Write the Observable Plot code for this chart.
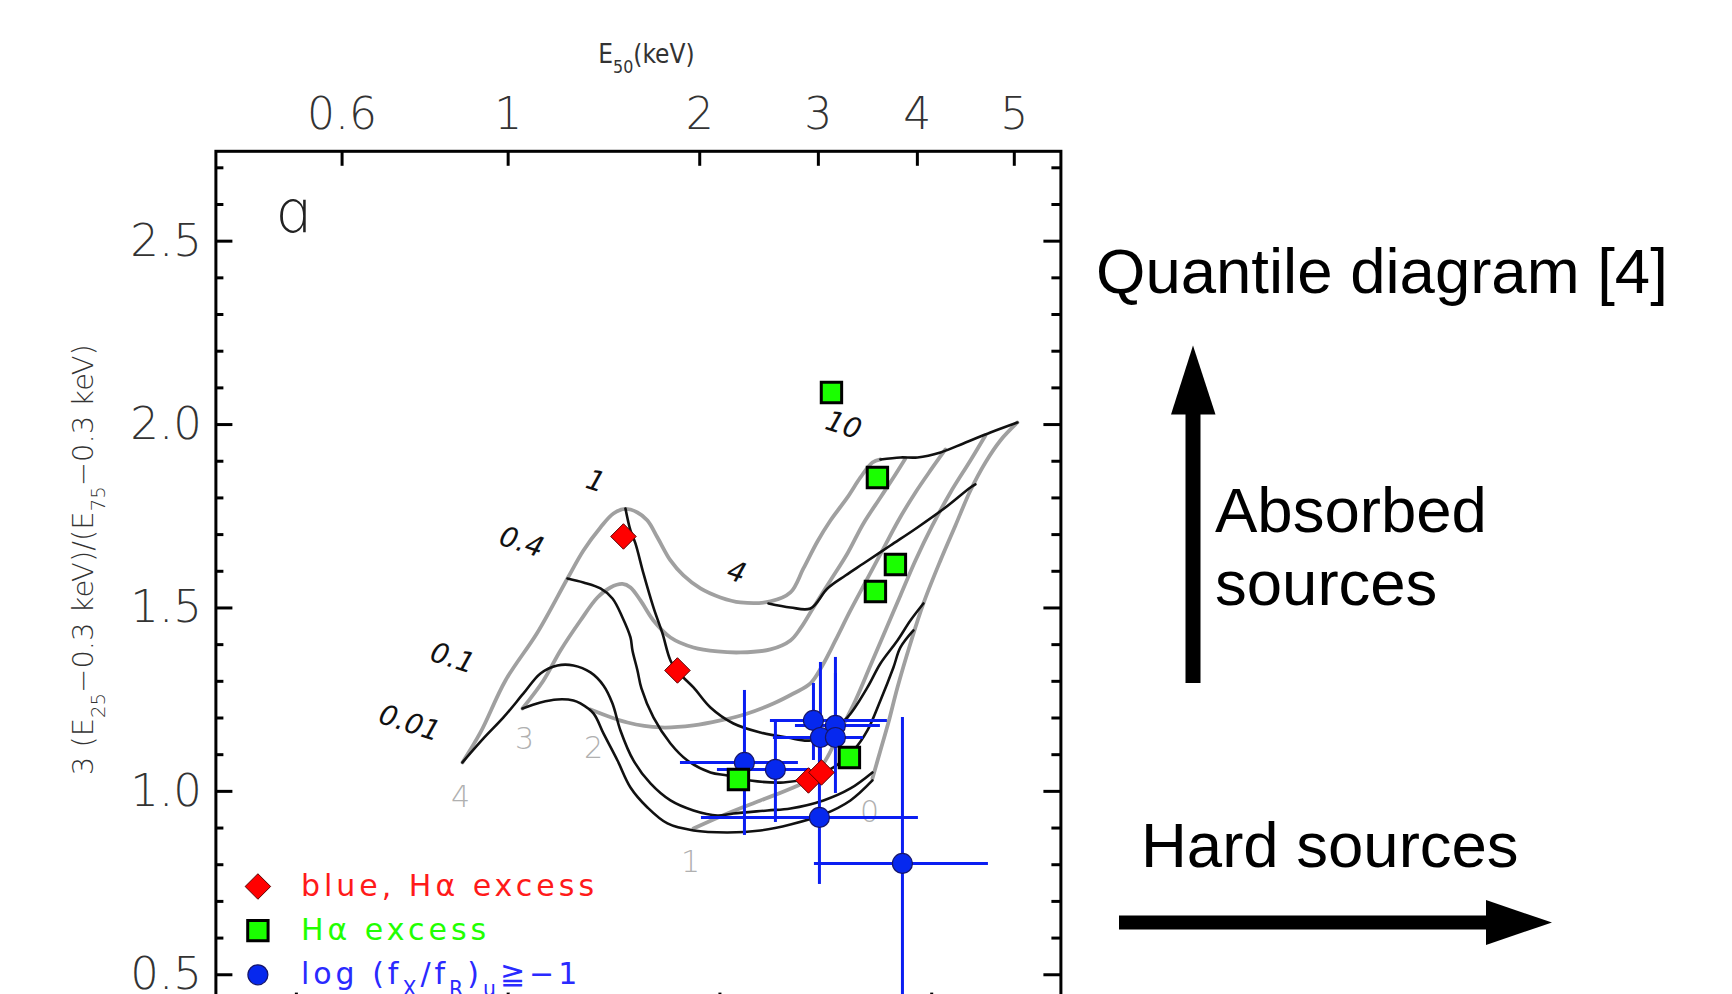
<!DOCTYPE html>
<html><head><meta charset="utf-8">
<script src="https://cdn.jsdelivr.net/npm/d3@7"></script>
<script src="https://cdn.jsdelivr.net/npm/@observablehq/plot@0.6"></script>
<style>
html,body{margin:0;padding:0;background:#fff;overflow:hidden;width:1732px;height:994px;}
#wrap{position:relative;width:1732px;height:994px;overflow:hidden;}
#chart{position:absolute;left:0;top:0;}
#notes{position:absolute;left:0;top:0;pointer-events:none;}
#notes text{font-family:"Liberation Sans",Arial,Helvetica,sans-serif;font-size:63.5px;fill:#000;}
</style></head><body>
<div id="wrap"><div id="chart"></div>
<svg id="notes" width="1732" height="994">
  <text x="1096" y="293">Quantile diagram [4]</text>
  <text x="1215" y="532">Absorbed</text>
  <text x="1215" y="605">sources</text>
  <text x="1141" y="867">Hard sources</text>
  <rect x="1185.5" y="412" width="15" height="271" fill="#000"/>
  <polygon points="1171,414.5 1215.5,414.5 1193,345.5" fill="#000"/>
  <rect x="1119" y="915.5" width="369" height="14" fill="#000"/>
  <polygon points="1486,900 1486,945 1552,922.5" fill="#000"/>
</svg></div>
<script>
// ---------- axis ticks ----------
const topTickE = [0.6, 1, 2, 3, 4, 5];               // E50 in keV
const topTickLabels = ["0.6", "1", "2", "3", "4", "5"];
const bottomTicks = [-1.5, -1, -0.5, 0];             // log10(m/(1-m))
const yMajor = [0.5, 1.0, 1.5, 2.0, 2.5];
const yMajorLabels = ["0.5", "1.0", "1.5", "2.0", "2.5"];
const yMinor = [0.6, 0.7, 0.8, 0.9, 1.1, 1.2, 1.3, 1.4, 1.6, 1.7, 1.8, 1.9, 2.1, 2.2, 2.3, 2.4, 2.6, 2.7];

// ---------- model grid: constant photon index (gray), [x = log10(m/(1-m)), y = 3(E25-0.3)/(E75-0.3)] ----------
const gamma4 = [[-1.1079,1.0788],[-1.0654,1.1606],[-1.0063,1.3024],[-0.9308,1.4332],[-0.8600,1.5804],[-0.8222,1.6568],[-0.7821,1.7195],[-0.7514,1.7576],[-0.7231,1.7699],[-0.6947,1.7604],[-0.6711,1.7386],[-0.6475,1.6922],[-0.6168,1.6295],[-0.5861,1.5886],[-0.5460,1.5532],[-0.4988,1.5286],[-0.4516,1.5150],[-0.3808,1.5177],[-0.3335,1.5423],[-0.3029,1.6077],[-0.2698,1.6813],[-0.2391,1.7386],[-0.1990,1.8013],[-0.1683,1.8558],[-0.1400,1.8967],[-0.1211,1.9049]];
const gamma3 = [[-0.9662,1.2260],[-0.9166,1.3024],[-0.8765,1.3841],[-0.8293,1.4659],[-0.7892,1.5286],[-0.7585,1.5559],[-0.7301,1.5654],[-0.7112,1.5559],[-0.6876,1.5205],[-0.6570,1.4659],[-0.6168,1.4196],[-0.5625,1.3923],[-0.5059,1.3814],[-0.4516,1.3787],[-0.3808,1.3869],[-0.3335,1.4114],[-0.3099,1.4441],[-0.2792,1.5014],[-0.2391,1.5750],[-0.1990,1.6486],[-0.1612,1.7304],[-0.1211,1.8013],[-0.0857,1.8640],[-0.0621,1.9076]];
const gamma2 = [[-0.8055,1.2233],[-0.7183,1.1878],[-0.6404,1.1742],[-0.5625,1.1797],[-0.4988,1.1933],[-0.4351,1.2124],[-0.3737,1.2396],[-0.3265,1.2669],[-0.2863,1.2942],[-0.2580,1.3432],[-0.2273,1.4114],[-0.1919,1.4932],[-0.1541,1.5750],[-0.1164,1.6568],[-0.0786,1.7386],[-0.0384,1.8149],[-0.0030,1.8749],[0.0324,1.9321]];
const gamma1 = [[-0.5625,0.8989],[-0.4823,0.9398],[-0.4044,0.9752],[-0.3265,1.0106],[-0.2863,1.0352],[-0.2509,1.0842],[-0.2155,1.1660],[-0.1801,1.2478],[-0.1447,1.3432],[-0.1093,1.4387],[-0.0739,1.5341],[-0.0384,1.6295],[0.0017,1.7249],[0.0442,1.8149],[0.0914,1.9021],[0.1268,1.9703]];
const gamma0 = [[-0.1400,1.0352],[-0.1211,1.1115],[-0.1022,1.1878],[-0.0809,1.2833],[-0.0503,1.4032],[-0.0196,1.5123],[0.0206,1.6295],[0.0560,1.7249],[0.0914,1.8203],[0.1268,1.8967],[0.1622,1.9567],[0.2023,2.0057]];

// ---------- model grid: constant NH (black) ----------
const nh001 = [[-1.1079,1.0788],[-1.0583,1.1442],[-1.0111,1.2015],[-0.9638,1.2669],[-0.9237,1.3214],[-0.8836,1.3432],[-0.8458,1.3432],[-0.8057,1.3242],[-0.7750,1.2887],[-0.7537,1.2396],[-0.7349,1.1660],[-0.7042,1.0842],[-0.6640,1.0215],[-0.6168,0.9752],[-0.5625,0.9479],[-0.5059,0.9343],[-0.4681,0.9398],[-0.3878,0.9479],[-0.3335,0.9534],[-0.2556,0.9752],[-0.1919,1.0079],[-0.1400,1.0515]];
const nh01 = [[-0.9662,1.2260],[-0.9237,1.2424],[-0.8836,1.2506],[-0.8458,1.2478],[-0.8293,1.2396],[-0.7986,1.2124],[-0.7750,1.1579],[-0.7419,1.0842],[-0.7112,1.0106],[-0.6711,0.9561],[-0.6239,0.9125],[-0.5625,0.8934],[-0.4823,0.8880],[-0.4044,0.8934],[-0.3335,0.9098],[-0.2556,0.9370],[-0.1919,0.9752],[-0.1400,1.0297]];
const nh04 = [[-0.8600,1.5804],[-0.8222,1.5695],[-0.7821,1.5532],[-0.7537,1.5259],[-0.7301,1.4741],[-0.7112,1.4196],[-0.7065,1.3841],[-0.6947,1.3296],[-0.6853,1.2805],[-0.6570,1.2015],[-0.6168,1.1306],[-0.5767,1.0842],[-0.5224,1.0515],[-0.4823,1.0433],[-0.4280,1.0297],[-0.3501,1.0243],[-0.2863,1.0379],[-0.2320,1.0652],[-0.1848,1.1115],[-0.1518,1.1660],[-0.1211,1.2478],[-0.0904,1.3378],[-0.0739,1.3923],[-0.0432,1.4387]];
const nh1 = [[-0.7231,1.7713],[-0.7112,1.7113],[-0.6995,1.6759],[-0.6806,1.5941],[-0.6570,1.5014],[-0.6357,1.4305],[-0.6168,1.3569],[-0.5979,1.3242],[-0.5625,1.2833],[-0.5224,1.2287],[-0.4681,1.1851],[-0.4044,1.1606],[-0.3406,1.1469],[-0.2863,1.1388],[-0.2391,1.1660],[-0.1990,1.2015],[-0.1518,1.2833],[-0.1211,1.3487],[-0.0809,1.4114],[-0.0503,1.4659],[-0.0196,1.5123]];
const nh4 = [[-0.3855,1.5123],[-0.3335,1.5014],[-0.2863,1.4986],[-0.2462,1.5532],[-0.2037,1.5886],[-0.1612,1.6213],[-0.0975,1.6704],[-0.0337,1.7195],[0.0324,1.7740],[0.0914,1.8285],[0.1032,1.8367]];
const nh10 = [[-0.1211,1.9049],[-0.0739,1.9103],[-0.0337,1.9103],[0.0206,1.9239],[0.0749,1.9485],[0.1386,1.9785],[0.2023,2.0057]];

const gammaNames = ["4", "3", "2", "1", "0"];
const nhNames = ["0.01", "0.1", "0.4", "1", "4", "10"];

// grid labels
const nhLabelU = [-1.2330, -1.1315, -0.9686, -0.7939, -0.4610, -0.2084];
const nhLabelV = [1.1851, 1.3623, 1.6786, 1.8449, 1.5968, 1.9976];
const gammaLabelU = [-1.1126, -0.9615, -0.7986, -0.5696, -0.1470];
const gammaLabelV = [0.9834, 1.1415, 1.1170, 0.8062, 0.9425];

// ---------- sources ----------
const redU = [-0.7278, -0.6003, -0.2910, -0.2603];
const redV = [1.6949, 1.3296, 1.0297, 1.0515];
const greenU = [-0.2367, -0.1282, -0.0857, -0.1329, -0.1943, -0.4563];
const greenV = [2.0875, 1.8558, 1.6186, 1.5450, 1.0924, 1.0324];
const blueU   = [-0.4421, -0.3690, -0.2792, -0.2273, -0.2627, -0.2273, -0.2651, -0.0691];
const blueV   = [1.0788, 1.0597, 1.1933, 1.1797, 1.1469, 1.1469, 0.9288, 0.8034];
const blueULo = [-0.5932, -0.5059, -0.3808, -0.3217, -0.3737, -0.2816, -0.5436, -0.2769];
const blueUHi = [-0.3147, -0.2863, -0.1046, -0.1211, -0.1612, -0.1730, -0.0314, 0.1339];
const blueVLo = [0.8798, 0.9152, 1.0842, 1.1388, 1.0570, 0.9943, 0.7462, 0.30];
const blueVHi = [1.2751, 1.1933, 1.2942, 1.3651, 1.3514, 1.3214, 1.1251, 1.2015];

const legendLabels = ["blue, H\u03b1 excess", "H\u03b1 excess", "log (f_{X}/f_{R})_{u}\u2267\u22121"];
const legendColors = ["#ff1a1a", "#22ff00", "#2a2aff"];

// ---------- build tables ----------
const ELO = 0.3, EHI = 8.0;
const quantileX = E => { const m = (E - ELO) / (EHI - ELO); return Math.log10(m / (1 - m)); };
const topRows = topTickE.map((e, i) => ({u: quantileX(e), label: topTickLabels[i]}));
const grayRows = [gamma4, gamma3, gamma2, gamma1, gamma0].flatMap((pts, i) => pts.map(([u, v]) => ({line: "G" + gammaNames[i], u, v})));
const blackRows = [nh001, nh01, nh04, nh1, nh4, nh10].flatMap((pts, i) => pts.map(([u, v]) => ({line: "N" + nhNames[i], u, v})));
const nhLabelRows = nhNames.map((t, i) => ({t, u: nhLabelU[i], v: nhLabelV[i]}));
const gammaLabelRows = gammaNames.map((t, i) => ({t, u: gammaLabelU[i], v: gammaLabelV[i]}));
const redRows = redU.map((u, i) => ({u, v: redV[i]}));
const greenRows = greenU.map((u, i) => ({u, v: greenV[i]}));
const blueRows = blueU.map((u, i) => ({u, v: blueV[i], ulo: blueULo[i], uhi: blueUHi[i], vlo: blueVLo[i], vhi: blueVHi[i]}));

const W = 1732, H = 1012;
const fL = 215.4, fR = 1060.4, fT = 150.8, fB = 1003.6;
const fW = fR - fL, fH = fB - fT;

const tickFont = "DejaVu Sans, Verdana, sans-serif";
const legendDy = [735.2, 779.3, 823.5];
const legendSymbols = [
  {symbol: "diamond2", r: 11.5, fill: "#ff0000", stroke: "#5a0000", strokeWidth: 1},
  {symbol: "square", r: 11.5, fill: "#1aff00", stroke: "#000", strokeWidth: 3},
  {symbol: "circle", r: 10, fill: "#0628ee", stroke: "#15156a", strokeWidth: 1.2}
];
const mid = {textAnchor: "middle", lineAnchor: "middle"};

const marks = [
  // grid
  Plot.line(grayRows, {x: "u", y: "v", z: "line", stroke: "#a0a0a0", strokeWidth: 3.8, curve: "catmull-rom"}),
  Plot.line(blackRows, {x: "u", y: "v", z: "line", stroke: "#111", strokeWidth: 2.6, curve: "catmull-rom"}),
  Plot.text(nhLabelRows, {x: "u", y: "v", text: "t", rotate: 18, fontSize: 28, fontStyle: "italic", fontFamily: tickFont, fill: "#111"}),
  Plot.text(gammaLabelRows, {x: "u", y: "v", text: "t", fontSize: 30, fontFamily: tickFont, fontWeight: 300, fill: "#b0b0b0"}),
  // error bars
  Plot.ruleY(blueRows, {y: "v", x1: "ulo", x2: "uhi", stroke: "#0b1ef2", strokeWidth: 3, clip: true}),
  Plot.ruleX(blueRows, {x: "u", y1: "vlo", y2: "vhi", stroke: "#0b1ef2", strokeWidth: 3, clip: true}),
  Plot.dot(blueRows, {x: "u", y: "v", ...legendSymbols[2]}),
  Plot.dot(greenRows, {x: "u", y: "v", ...legendSymbols[1]}),
  Plot.dot(redRows, {x: "u", y: "v", ...legendSymbols[0]}),
  // frame and ticks
  Plot.frame({stroke: "#000", strokeWidth: 3}),
  Plot.tickX(topRows, {x: "u", insetBottom: fH - 15, stroke: "#000", strokeWidth: 3}),
  Plot.tickX(bottomTicks, {x: d => d, insetTop: fH - 11, stroke: "#000", strokeWidth: 3}),
  Plot.tickY(yMajor, {y: d => d, insetRight: fW - 17, stroke: "#000", strokeWidth: 3}),
  Plot.tickY(yMajor, {y: d => d, insetLeft: fW - 17, stroke: "#000", strokeWidth: 3}),
  Plot.tickY(yMinor, {y: d => d, insetRight: fW - 8, stroke: "#000", strokeWidth: 3}),
  Plot.tickY(yMinor, {y: d => d, insetLeft: fW - 9, stroke: "#000", strokeWidth: 3}),
  Plot.text(topRows, {x: "u", text: "label", frameAnchor: "top", dy: -36, ...mid, fontSize: 44, fontFamily: tickFont, fontWeight: 200, fill: "#333"}),
  Plot.text(yMajor, {y: d => d, text: (d, i) => yMajorLabels[i], frameAnchor: "left", dx: -14, textAnchor: "end", lineAnchor: "middle", fontSize: 45, fontFamily: tickFont, fontWeight: 200, fill: "#333"}),
  Plot.text(["E_{50}(keV)"], {text: d => d, frameAnchor: "top", dx: 8, dy: -97, ...mid, fontSize: 26, fontFamily: "DejaVu Sans Condensed, Liberation Sans Narrow, DejaVu Sans, sans-serif", fontWeight: 200, fill: "#333"}),
  Plot.text(["3 (E_{25}\u22120.3 keV)/(E_{75}\u22120.3 keV)"], {text: d => d, frameAnchor: "left", dx: -132, dy: -18, rotate: -90, ...mid, fontSize: 29, fontFamily: tickFont, fontWeight: 300, fill: "#333"}),
  Plot.text(["\u0251"], {text: d => d, frameAnchor: "top-left", dx: 76, dy: 62, ...mid, fontSize: 58, fontFamily: tickFont, fontWeight: 200, fill: "#222"}),
  // legend
  ...legendLabels.flatMap((lab, i) => [
    Plot.dot([lab], {frameAnchor: "top-left", dx: 42, dy: legendDy[i], ...legendSymbols[i]}),
    Plot.text([lab], {text: d => d, frameAnchor: "top-left", dx: 85, dy: legendDy[i], textAnchor: "start", lineAnchor: "middle", fontSize: 30, fontFamily: tickFont, fill: legendColors[i]})
  ])
];

const chart = Plot.plot({
  width: W, height: H,
  marginLeft: fL, marginRight: W - fR, marginTop: fT, marginBottom: H - fB,
  x: {type: "linear", domain: [-1.69, 0.305], axis: null},
  y: {type: "linear", domain: [0.42, 2.745], axis: null},
  style: {background: "transparent", overflow: "visible"},
  marks
});
document.getElementById("chart").appendChild(chart);

// subscripts and letter spacing
d3.select(chart).selectAll("text").each(function() {
  const s = this.textContent;
  const el = d3.select(this);
  if (legendLabels.includes(s)) el.attr("letter-spacing", 4);
  if (!s.includes("_{")) return;
  el.text(null);
  const re = /_\{([^}]*)\}/g; let last = 0, m;
  while ((m = re.exec(s))) {
    if (m.index > last) el.append("tspan").text(s.slice(last, m.index));
    el.append("tspan").attr("baseline-shift", "sub").attr("font-size", "68%").text(m[1]);
    last = re.lastIndex;
  }
  if (last < s.length) el.append("tspan").text(s.slice(last));
});
</script></body></html>
